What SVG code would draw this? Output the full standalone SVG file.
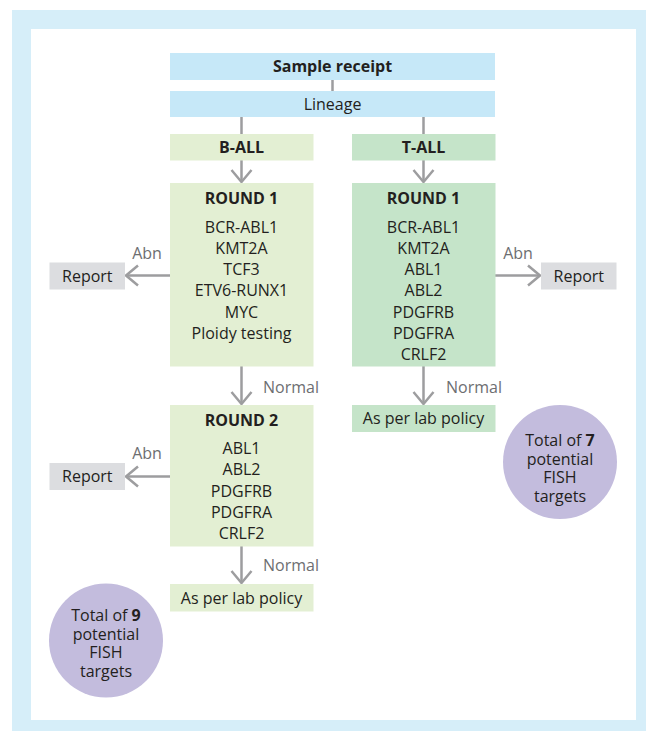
<svg xmlns="http://www.w3.org/2000/svg" width="656" height="731" viewBox="0 0 656 731">
<style>
text{font-family:"Open Sans","Liberation Sans",sans-serif;font-size:16px;fill:#231f20;text-anchor:middle}
.b{font-weight:bold}
.lbl{fill:#6d6e71}
.st{text-anchor:start}
.blue{fill:#c6e8f8}
.bg{fill:#e3efd3}
.tg{fill:#c5e4c9}
.rep{fill:#dcdde0}
.circ{fill:#c3bcdd}
.con line{stroke:#9d9d9f;stroke-width:2.5;fill:none}
</style>
<defs>
<marker id="ah" markerUnits="userSpaceOnUse" viewBox="-15 -13 18 26" refX="0" refY="0" markerWidth="18" markerHeight="26" orient="auto">
<path d="M-12,-10 L0,0 L-12,10" fill="none" stroke="#9d9d9f" stroke-width="2.5" stroke-linejoin="round" stroke-linecap="butt"/>
</marker>
</defs>
<rect x="12" y="10" width="634" height="721" fill="#d6eef9"/>
<rect x="31" y="29" width="605" height="691" fill="#ffffff"/>

<g class="con" id="connectors">
<line x1="332.5" y1="80" x2="332.5" y2="91"/>
<line x1="241.5" y1="117" x2="241.5" y2="134"/>
<line x1="423.5" y1="117" x2="423.5" y2="134"/>
<line x1="241.5" y1="160" x2="241.5" y2="182" marker-end="url(#ah)"/>
<line x1="423.5" y1="160" x2="423.5" y2="182" marker-end="url(#ah)"/>
<line x1="170" y1="275.5" x2="126" y2="275.5" marker-end="url(#ah)"/>
<line x1="495" y1="275.5" x2="540" y2="275.5" marker-end="url(#ah)"/>
<line x1="241.5" y1="366" x2="241.5" y2="404" marker-end="url(#ah)"/>
<line x1="423.5" y1="366" x2="423.5" y2="404" marker-end="url(#ah)"/>
<line x1="170" y1="476.5" x2="126" y2="476.5" marker-end="url(#ah)"/>
<line x1="241.5" y1="546" x2="241.5" y2="583" marker-end="url(#ah)"/>
<text class="lbl" x="147" y="259">Abn</text>
<text class="lbl" x="518" y="259">Abn</text>
<text class="lbl" x="147" y="459">Abn</text>
<text class="lbl st" x="263" y="393">Normal</text>
<text class="lbl st" x="446" y="393">Normal</text>
<text class="lbl st" x="263" y="571">Normal</text>
</g>

<g id="sample-receipt">
<rect class="blue" x="170" y="53" width="325" height="27"/>
<text class="b" x="332.5" y="72">Sample receipt</text>
</g>
<g id="lineage">
<rect class="blue" x="170" y="91" width="325" height="26"/>
<text x="332.5" y="109.5">Lineage</text>
</g>
<g id="b-all">
<rect class="bg" x="170" y="134" width="143.5" height="26.5"/>
<text class="b" x="241.5" y="152.5">B-ALL</text>
</g>
<g id="t-all">
<rect class="tg" x="352" y="134" width="143.5" height="26.5"/>
<text class="b" x="423.5" y="152.5">T-ALL</text>
</g>
<g id="b-round1">
<rect class="bg" x="170" y="183" width="143.5" height="183.5"/>
<text class="b" x="241.5" y="203.5">ROUND 1</text>
<text x="241.5" y="232.5">BCR-ABL1</text>
<text x="241.5" y="253.5">KMT2A</text>
<text x="241.5" y="274.5">TCF3</text>
<text x="241.5" y="296">ETV6-RUNX1</text>
<text x="241.5" y="317.5">MYC</text>
<text x="241.5" y="338.5">Ploidy testing</text>
</g>
<g id="t-round1">
<rect class="tg" x="352" y="183" width="143.5" height="183.5"/>
<text class="b" x="423.5" y="203.5">ROUND 1</text>
<text x="423.5" y="232.5">BCR-ABL1</text>
<text x="423.5" y="253.5">KMT2A</text>
<text x="423.5" y="274.5">ABL1</text>
<text x="423.5" y="296">ABL2</text>
<text x="423.5" y="317.5">PDGFRB</text>
<text x="423.5" y="338.5">PDGFRA</text>
<text x="423.5" y="360">CRLF2</text>
</g>
<g id="report-b1">
<rect class="rep" x="49.5" y="262.5" width="75.5" height="27"/>
<text x="87.3" y="281.5">Report</text>
</g>
<g id="report-t1">
<rect class="rep" x="541" y="262.5" width="75.5" height="27"/>
<text x="578.8" y="281.5">Report</text>
</g>
<g id="b-round2">
<rect class="bg" x="170" y="405" width="143.5" height="141.5"/>
<text class="b" x="241.5" y="425.5">ROUND 2</text>
<text x="241.5" y="454">ABL1</text>
<text x="241.5" y="475">ABL2</text>
<text x="241.5" y="496.5">PDGFRB</text>
<text x="241.5" y="518">PDGFRA</text>
<text x="241.5" y="539">CRLF2</text>
</g>
<g id="report-b2">
<rect class="rep" x="49.5" y="463" width="75.5" height="27"/>
<text x="87.3" y="482">Report</text>
</g>
<g id="t-policy">
<rect class="tg" x="352" y="405" width="143.5" height="27"/>
<text x="423.5" y="424">As per lab policy</text>
</g>
<g id="b-policy">
<rect class="bg" x="170" y="584" width="143.5" height="27.5"/>
<text x="241.5" y="603.5">As per lab policy</text>
</g>
<g id="t-total">
<circle class="circ" cx="560" cy="462" r="57"/>
<text x="560" y="446">Total of <tspan class="b">7</tspan></text>
<text x="560" y="464.5">potential</text>
<text x="560" y="483">FISH</text>
<text x="560" y="501.5">targets</text>
</g>
<g id="b-total">
<circle class="circ" cx="106" cy="640.5" r="57"/>
<text x="106" y="621">Total of <tspan class="b">9</tspan></text>
<text x="106" y="639.5">potential</text>
<text x="106" y="658">FISH</text>
<text x="106" y="676.5">targets</text>
</g>
</svg>
